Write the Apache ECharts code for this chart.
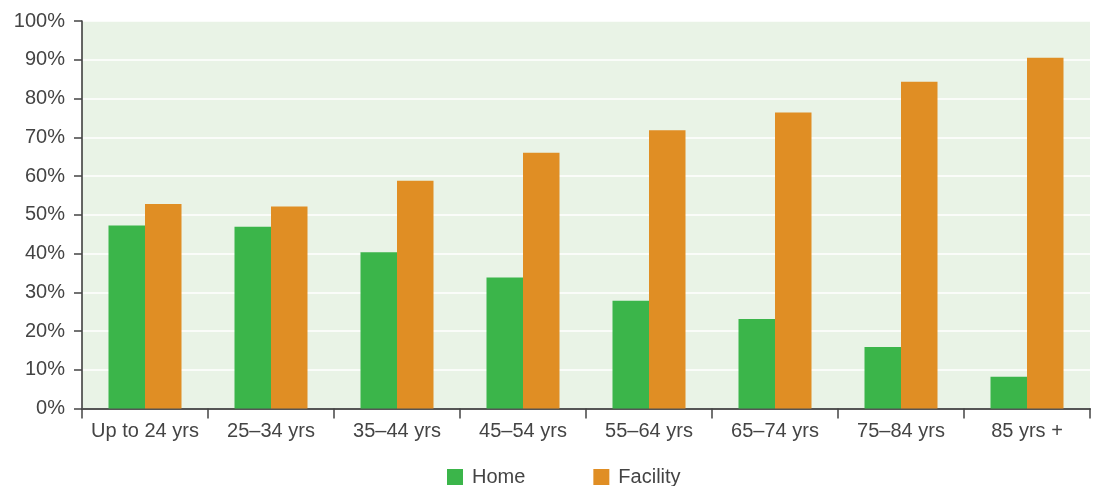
<!DOCTYPE html>
<html>
<head>
<meta charset="utf-8">
<script src="https://cdn.jsdelivr.net/npm/echarts@6/dist/echarts.min.js"></script>
<style>
  html, body { margin: 0; padding: 0; background: #ffffff; }
  #chart { width: 1096px; height: 486px; }
</style>
</head>
<body>
<div id="chart"></div>
<script>
// Place of death by age group (share of deaths, %)
const categories = ['Up to 24 yrs', '25\u201334 yrs', '35\u201344 yrs', '45\u201354 yrs', '55\u201364 yrs', '65\u201374 yrs', '75\u201384 yrs', '85 yrs +'];
const homeValues = [47.2, 46.9, 40.3, 33.8, 27.8, 23.1, 15.9, 8.2];
const facilityValues = [52.8, 52.1, 58.8, 66.0, 71.8, 76.4, 84.3, 90.5];
const seriesNames = ['Home', 'Facility'];

const textColor = '#444444';
const fontFamily = '"Liberation Sans", Arial, sans-serif';

const chart = echarts.init(document.getElementById('chart'), null, { renderer: 'canvas' });
chart.setOption({
  animation: false,
  color: ['#3bb54a', '#e08e24'],
  grid: {
    left: 82, right: 6, top: 21, bottom: 77.5,
    show: true, backgroundColor: '#e9f3e6', borderWidth: 0
  },
  legend: {
    data: seriesNames,
    top: 467,
    left: 447,
    padding: 0,
    itemWidth: 16,
    itemHeight: 16,
    itemGap: 68,
    icon: 'rect',
    textStyle: { color: textColor, fontSize: 20, fontFamily: fontFamily, padding: [0, 0, 0, 4] }
  },
  xAxis: {
    type: 'category',
    data: categories,
    axisLine: { lineStyle: { color: '#555555', width: 2 } },
    axisTick: { show: true, interval: 0, length: 10, lineStyle: { color: '#444444', width: 1.5 } },
    axisLabel: { interval: 0, color: textColor, fontSize: 20, fontFamily: fontFamily, margin: 13 }
  },
  yAxis: {
    type: 'value',
    min: 0, max: 100, interval: 10,
    axisLine: { show: true, lineStyle: { color: '#333333', width: 1.5 } },
    axisTick: { show: true, length: 8, lineStyle: { color: '#444444', width: 1.5 } },
    axisLabel: { color: textColor, fontSize: 20, fontFamily: fontFamily, margin: 17, formatter: '{value}%' },
    splitLine: { lineStyle: { color: '#ffffff', width: 1.5 } }
  },
  series: [
    { name: seriesNames[0], type: 'bar', data: homeValues, barWidth: 36.5, barGap: '0%' },
    { name: seriesNames[1], type: 'bar', data: facilityValues, barWidth: 36.5, barGap: '0%' }
  ]
});
</script>
</body>
</html>
